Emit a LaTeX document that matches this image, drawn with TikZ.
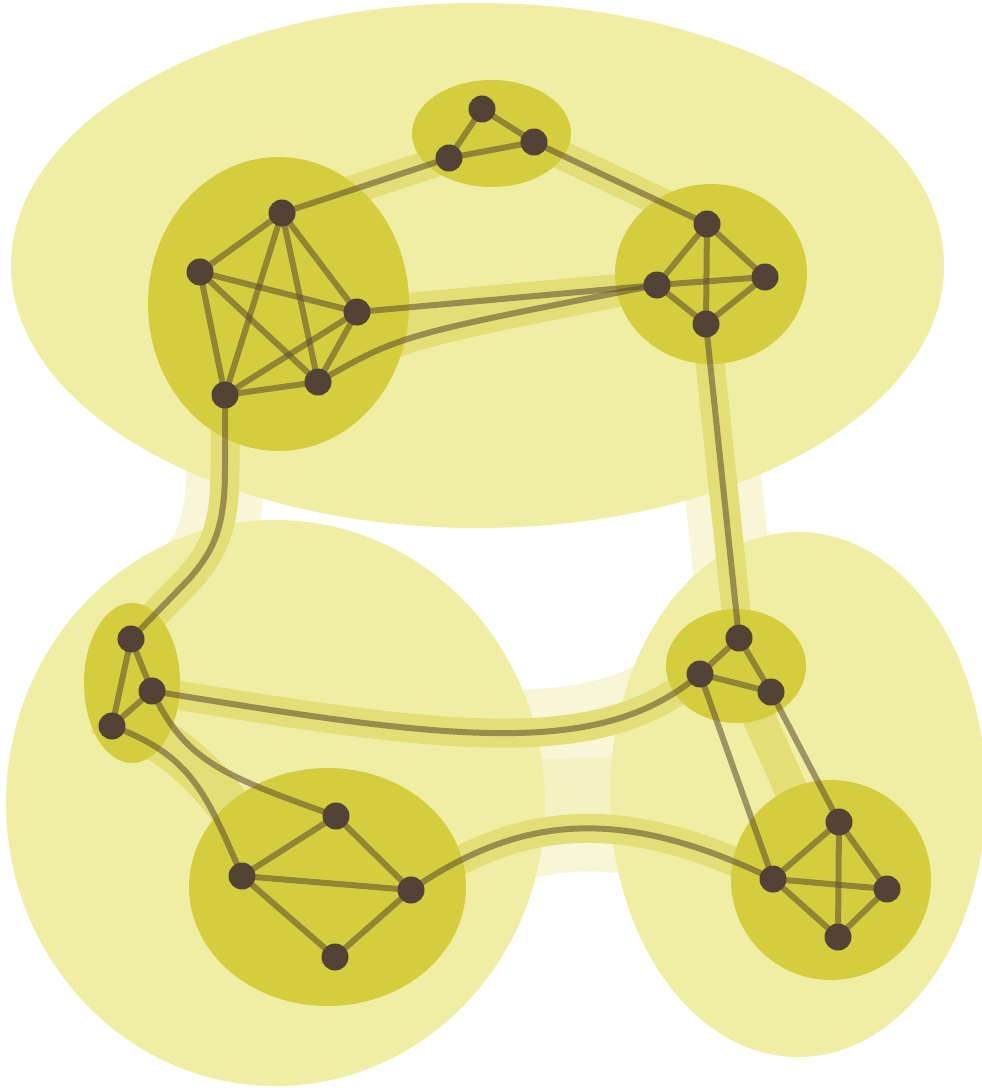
\documentclass[tikz,border=0pt]{standalone}
\usepackage{tikz}

\definecolor{tlo3}{HTML}{F0EEA4}
\definecolor{tlo2}{HTML}{D4CE3F}
\definecolor{pas2}{HTML}{E3DE75}
\definecolor{pas3}{HTML}{F8F6D6}
\definecolor{pas3b}{HTML}{F4F2C0}
\definecolor{wierz}{HTML}{534336}
\definecolor{kraw}{HTML}{5B4A2E}

\tikzset{
  krawedz/.style={kraw, opacity=0.55, line width=6pt},
  pasek/.style={pas2, line width=29pt},
  szerokipasek/.style={pas3, line width=78pt},
}

\begin{document}
\begin{tikzpicture}[x=1pt,y=-1pt]
	\useasboundingbox (0,0) rectangle (982,1088);

	% Srodki klastrow
	\coordinate (T) at (477.5,265.5);
	\coordinate (L) at (275.5,803);
	\coordinate (R) at (798,794.5);
	\coordinate (A) at (278.5,304);
	\coordinate (B) at (491.5,133.5);
	\coordinate (C) at (711,274);
	\coordinate (D) at (132,683);
	\coordinate (E) at (327.5,887);
	\coordinate (F) at (736,666);
	\coordinate (G) at (831,880);

	% Wierzcholki
	\coordinate (A1) at (282,213);
	\coordinate (A2) at (200,272);
	\coordinate (A3) at (357,312);
	\coordinate (A4) at (318,382);
	\coordinate (A5) at (225,395);
	\coordinate (B1) at (482,109);
	\coordinate (B2) at (449,158);
	\coordinate (B3) at (534,142);
	\coordinate (C1) at (707,224);
	\coordinate (C2) at (657,285);
	\coordinate (C3) at (765,277);
	\coordinate (C4) at (706,324);
	\coordinate (D1) at (131,639);
	\coordinate (D2) at (152,691);
	\coordinate (D3) at (112,726);
	\coordinate (E1) at (336,816);
	\coordinate (E2) at (242,876);
	\coordinate (E3) at (411,890);
	\coordinate (E4) at (335,957);
	\coordinate (F1) at (739,638);
	\coordinate (F2) at (700,674);
	\coordinate (F3) at (771,692);
	\coordinate (G1) at (839,822);
	\coordinate (G2) at (773,879);
	\coordinate (G3) at (887,889);
	\coordinate (G4) at (838,937);

	% Punkty pomocnicze krawedzi A5-D1
	\coordinate (H1) at (225,470);
	\coordinate (H2) at (190,578);

	% Szerokie paski (poziom 3)
	\draw[szerokipasek] (A5) -- (H1) .. controls (225,530) and (212,552) .. (H2) -- (D1);
	\draw[szerokipasek] (C4) -- (F1);
	\draw[szerokipasek, line width=86pt] (D2) .. controls (450,740) and (600,760) .. (F2);
	\draw[szerokipasek, line width=86pt] (E3) .. controls (520,815) and (620,805) .. (G2);
	\draw[pas3b, line width=80pt] (L) -- (R);

	% Duze klastry
	\fill[tlo3] (T) ellipse [x radius=466.5, y radius=262.5];
	\fill[tlo3] (L) ellipse [x radius=269.5, y radius=283];
	\fill[tlo3] (R) ellipse [x radius=188, y radius=262.5];

	% Paski (poziom 2)
	\draw[pasek] (A1) -- (B2);
	\draw[pasek] (B3) -- (C1);
	\fill[pas2] (A3) -- (C2) .. controls (400,335) .. (A4) -- cycle;
	\draw[pasek] (A3) -- (C2);
	\draw[pasek] (A4) .. controls (400,335) .. (C2);
	\draw[pasek] (C4) -- (F1);
	\draw[pasek] (A5) -- (H1) .. controls (225,530) and (212,552) .. (H2) -- (D1);
	\draw[pasek, line width=44pt] (98,712) .. controls (165,735) and (210,770) .. (255,845);
	\draw[pasek] (D2) .. controls (450,740) and (600,760) .. (F2);
	\draw[pasek] (E3) .. controls (520,815) and (620,805) .. (G2);
	\draw[pasek, line width=33pt] (F) -- (G);

	% Klastry
	\fill[tlo2] (A) ellipse [x radius=130.5, y radius=147];
	\fill[tlo2] (B) ellipse [x radius=79.5, y radius=53.5];
	\fill[tlo2] (C) ellipse [x radius=96, y radius=90];
	\fill[tlo2] (D) ellipse [x radius=48, y radius=80];
	\fill[tlo2] (E) ellipse [x radius=138.5, y radius=119];
	\fill[tlo2] (F) ellipse [x radius=70, y radius=57];
	\fill[tlo2] (G) circle (100);

	% Krawedzie wewnatrz klastrow
	\foreach \p/\q in {A1/A2, A1/A3, A1/A4, A1/A5, A2/A3, A2/A4, A2/A5, A3/A4, A3/A5, A4/A5,
		B1/B2, B1/B3, B2/B3,
		C1/C2, C1/C3, C1/C4, C2/C3, C2/C4, C3/C4,
		D1/D2, D1/D3, D2/D3,
		E1/E2, E1/E3, E2/E3, E2/E4, E3/E4,
		F1/F2, F1/F3, F2/F3,
		G1/G2, G1/G3, G1/G4, G2/G3, G2/G4, G3/G4}
		\draw[krawedz] (\p) -- (\q);

	% Krawedzie miedzy klastrami
	\draw[krawedz] (A1) -- (B2);
	\draw[krawedz] (B3) -- (C1);
	\draw[krawedz] (A3) -- (C2);
	\draw[krawedz] (A4) .. controls (400,335) .. (C2);
	\draw[krawedz] (C4) -- (F1);
	\draw[krawedz] (A5) -- (H1) .. controls (225,530) and (212,552) .. (H2) -- (D1);
	\draw[krawedz] (D2) .. controls (185,760) and (220,775) .. (E1);
	\draw[krawedz] (D3) .. controls (190,755) and (205,790) .. (E2);
	\draw[krawedz] (D2) .. controls (450,740) and (600,760) .. (F2);
	\draw[krawedz] (E3) .. controls (520,815) and (620,805) .. (G2);
	\draw[krawedz] (F2) -- (G2);
	\draw[krawedz] (F3) -- (G1);

	% Punkty
	\foreach \v in {A1,A2,A3,A4,A5,B1,B2,B3,C1,C2,C3,C4,D1,D2,D3,E1,E2,E3,E4,F1,F2,F3,G1,G2,G3,G4}
		\fill[wierz] (\v) circle (13.5);
\end{tikzpicture}
\end{document}
